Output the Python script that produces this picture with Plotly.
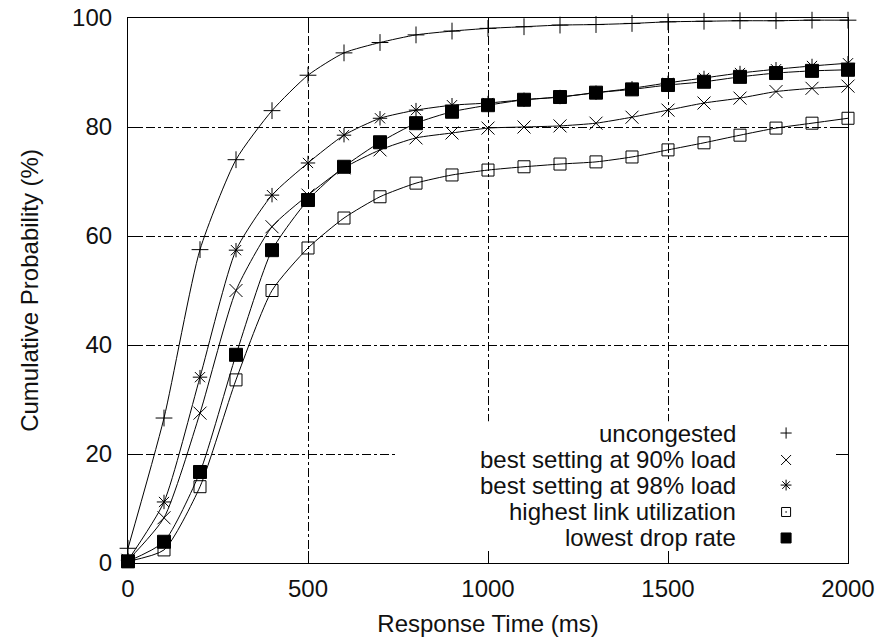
import plotly.graph_objects as go

# ---- data ----
response_ms = [0, 100, 200, 300, 400, 500, 600, 700, 800, 900, 1000,
               1100, 1200, 1300, 1400, 1500, 1600, 1700, 1800, 1900, 2000]

uncongested = [2.7, 26.6, 57.5, 74.0, 83.0, 89.5, 93.6, 95.5, 96.9, 97.6, 98.1,
               98.4, 98.7, 98.8, 99.0, 99.3, 99.4, 99.5, 99.5, 99.6, 99.6]
best_90 = [0.5, 8.3, 27.5, 50.0, 61.7, 67.5, 72.5, 75.8, 78.0, 78.9, 79.8,
           80.0, 80.2, 80.7, 81.8, 83.1, 84.4, 85.3, 86.5, 87.1, 87.5]
best_98 = [0.5, 11.2, 34.1, 57.4, 67.5, 73.4, 78.5, 81.6, 83.1, 84.0, 84.4,
           85.0, 85.5, 86.3, 87.1, 88.1, 89.0, 89.9, 90.6, 91.2, 91.7]
highest_util = [0.3, 2.4, 14.0, 33.6, 50.0, 57.8, 63.3, 67.2, 69.7, 71.2, 72.1,
                72.7, 73.2, 73.6, 74.5, 75.8, 77.1, 78.5, 79.8, 80.7, 81.6]
lowest_drop = [0.3, 3.9, 16.7, 38.2, 57.4, 66.6, 72.7, 77.2, 80.7, 82.8, 84.0,
               85.0, 85.5, 86.3, 86.9, 87.7, 88.3, 89.2, 89.9, 90.3, 90.5]

series_names = ["uncongested", "best setting at 90% load", "best setting at 98% load",
                "highest link utilization", "lowest drop rate"]
series_values = [uncongested, best_90, best_98, highest_util, lowest_drop]

x_ticks = [0, 500, 1000, 1500, 2000]
y_ticks = [0, 20, 40, 60, 80, 100]

# ---- styles ----
plot_symbols = ["cross-thin", "x-thin", "asterisk", "square-open", "square"]
plot_sizes = [12, 13, 12, 12, 13]
legend_symbols = ["cross-thin", "x-thin", "asterisk", "square-open-dot", "square"]
legend_sizes = [8, 10, 9, 9, 10]
legend_rows = [0.2385, 0.189, 0.143, 0.0936, 0.0459]   # paper y of legend rows
legend_text_x = 0.847
legend_symbol_x = 0.914

FONT = "Liberation Sans, Arial, Helvetica, sans-serif"
INK = "#111111"
FS = 24

fig = go.Figure()

for name, vals, sym, sz in zip(series_names, series_values, plot_symbols, plot_sizes):
    fig.add_trace(go.Scatter(
        x=response_ms, y=vals, name=name, mode="lines+markers",
        line=dict(color="black", width=1, shape="spline", smoothing=0.6),
        marker=dict(symbol=sym, size=sz, color="black",
                    line=dict(color="black", width=1)),
        cliponaxis=False, showlegend=False,
    ))

# custom legend (text right-aligned, key to the right, like gnuplot)
for name, sym, sz, ry in zip(series_names, legend_symbols, legend_sizes, legend_rows):
    fig.add_annotation(text=name, xref="paper", yref="paper", x=legend_text_x, y=ry,
                       xanchor="right", yanchor="middle", showarrow=False,
                       font=dict(family=FONT, size=FS, color=INK))
    fig.add_trace(go.Scatter(
        x=[legend_symbol_x], y=[ry], xaxis="x2", yaxis="y2", mode="markers",
        marker=dict(symbol=sym, size=sz, color="black", line=dict(color="black", width=1)),
        showlegend=False, hoverinfo="skip", cliponaxis=False,
    ))

# white key box hiding the grid behind the legend
fig.add_shape(type="rect", xref="x", yref="y", x0=750, x1=2000, y0=0, y1=26,
              fillcolor="white", line=dict(width=0), layer="between")

axis_common = dict(
    showline=True, linecolor="black", linewidth=1.2, mirror="ticks",
    ticks="inside", ticklen=12, tickwidth=1, tickcolor="black",
    showgrid=True, gridcolor="black", gridwidth=1, griddash="dashdot",
    zeroline=False, automargin=False,
    tickfont=dict(family=FONT, size=FS, color=INK),
)

fig.update_layout(
    width=892, height=644,
    margin=dict(l=128, r=44, t=18, b=81),
    paper_bgcolor="white", plot_bgcolor="white",
    font=dict(family=FONT, size=FS, color=INK),
    showlegend=False,
    xaxis=dict(range=[0, 2000], tickvals=x_ticks, ticktext=[str(v) for v in x_ticks],
               title=dict(text="Response Time (ms)", font=dict(family=FONT, size=FS, color=INK),
                          standoff=14),
               ticklabelstandoff=4, **axis_common),
    yaxis=dict(range=[0, 100], tickvals=y_ticks, ticktext=[str(v) for v in y_ticks],
               title=dict(text="Cumulative Probability (%)", font=dict(family=FONT, size=FS, color=INK),
                          standoff=26),
               ticklabelstandoff=10, **axis_common),
    xaxis2=dict(range=[0, 1], overlaying="x", visible=False, fixedrange=True),
    yaxis2=dict(range=[0, 1], overlaying="y", visible=False, fixedrange=True),
)

fig.write_html("out.html")
